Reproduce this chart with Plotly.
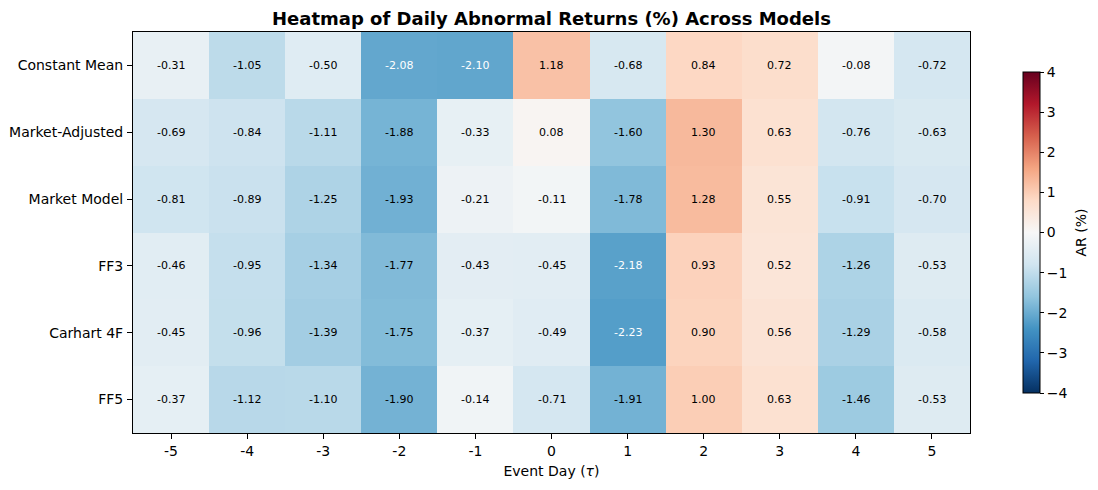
import plotly.graph_objects as go

models = ["Constant Mean", "Market-Adjusted", "Market Model", "FF3", "Carhart 4F", "FF5"]
event_days = [-5, -4, -3, -2, -1, 0, 1, 2, 3, 4, 5]
day_labels = ["-5", "-4", "-3", "-2", "-1", "0", "1", "2", "3", "4", "5"]
ar_values = [
    [-0.31, -1.05, -0.50, -2.08, -2.10, 1.18, -0.68, 0.84, 0.72, -0.08, -0.72],
    [-0.69, -0.84, -1.11, -1.88, -0.33, 0.08, -1.60, 1.30, 0.63, -0.76, -0.63],
    [-0.81, -0.89, -1.25, -1.93, -0.21, -0.11, -1.78, 1.28, 0.55, -0.91, -0.70],
    [-0.46, -0.95, -1.34, -1.77, -0.43, -0.45, -2.18, 0.93, 0.52, -1.26, -0.53],
    [-0.45, -0.96, -1.39, -1.75, -0.37, -0.49, -2.23, 0.90, 0.56, -1.29, -0.58],
    [-0.37, -1.12, -1.10, -1.90, -0.14, -0.71, -1.91, 1.00, 0.63, -1.46, -0.53],
]
cbar_ticks = [-4, -3, -2, -1, 0, 1, 2, 3, 4]

rdbu = ["#67001f", "#b2182b", "#d6604d", "#f4a582", "#fddbc7", "#f7f7f7",
        "#d1e5f0", "#92c5de", "#4393c3", "#2166ac", "#053061"]
rdbu_r = rdbu[::-1]
colorscale = [[i / (len(rdbu_r) - 1), c] for i, c in enumerate(rdbu_r)]

fig = go.Figure()
fig.add_trace(go.Heatmap(
    z=ar_values, x=event_days, y=models,
    zmin=-4, zmax=4, colorscale=colorscale,
    xgap=0, ygap=0,
    colorbar=dict(
        x=1.063, xanchor="left", xref="paper", xpad=0, ypad=0,
        y=0.5, yanchor="middle", len=0.8, lenmode="fraction",
        thickness=17, outlinewidth=1, outlinecolor="black",
        tickvals=cbar_ticks, ticks="outside", ticklen=4, tickcolor="black",
        tickfont=dict(size=14, color="black"),
    ),
    hovertemplate="%{y}<br>Day %{x}: %{z:.2f}<extra></extra>",
))

annotations = []
for i, m in enumerate(models):
    for j, d in enumerate(event_days):
        v = ar_values[i][j]
        annotations.append(dict(
            x=d, y=m, xref="x", yref="y", text=f"{v:.2f}", showarrow=False,
            font=dict(size=11, color="white" if abs(v) > 2 else "black"),
        ))
annotations.append(dict(
    x=1.1326, y=0.5, xref="paper", yref="paper", text="AR (%)",
    showarrow=False, textangle=-90, xanchor="center", yanchor="middle",
    font=dict(size=14, color="black"),
))

fig.update_layout(
    width=1090, height=482,
    margin=dict(l=125, r=128, t=24, b=57, autoexpand=False),
    paper_bgcolor="white", plot_bgcolor="white",
    font=dict(family="DejaVu Sans", color="black"),
    title=dict(text="<b>Heatmap of Daily Abnormal Returns (%) Across Models</b>",
               x=0.5, xref="paper", xanchor="center", y=1, yref="container",
               yanchor="top", pad=dict(t=4), font=dict(size=18, color="black")),
    annotations=annotations,
    xaxis=dict(
        tickvals=event_days, ticktext=day_labels, ticks="outside", ticklen=5,
        tickcolor="black", tickfont=dict(size=14), showline=True,
        linecolor="black", mirror=True, linewidth=1, showgrid=False,
        zeroline=False, automargin=False,
        title=dict(text="Event Day (<i>τ</i>)", font=dict(size=14), standoff=8),
    ),
    yaxis=dict(
        autorange="reversed", ticks="outside", ticklen=5, tickcolor="black",
        tickfont=dict(size=14), showline=True, linecolor="black", mirror=True,
        linewidth=1, showgrid=False, zeroline=False, automargin=False,
        ticklabelstandoff=1,
    ),
)

fig.write_html("out.html")
